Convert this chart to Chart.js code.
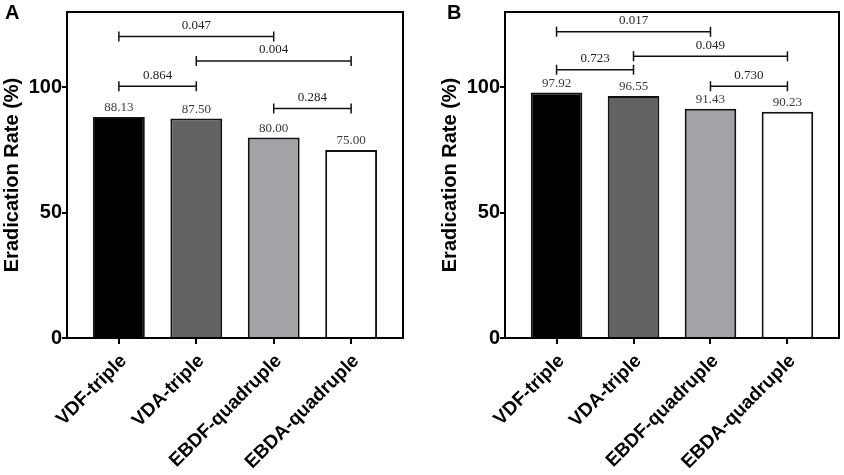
<!DOCTYPE html>
<html>
<head>
<meta charset="utf-8">
<script src="https://cdn.jsdelivr.net/npm/chart.js@4.4.0/dist/chart.umd.min.js"></script>
<style>
  body { margin: 0; background: #fff; }
  #wrap { position: relative; width: 844px; height: 475px; overflow: hidden; }
  #chartA { position: absolute; left: 0; top: 0; }
  #chartB { position: absolute; left: 438px; top: 0; }
</style>
</head>
<body>
<div id="wrap">
  <canvas id="chartA" width="422" height="475"></canvas>
  <canvas id="chartB" width="406" height="475"></canvas>
</div>
<script>
// groups on the x axis
var categories = ['VDF-triple', 'VDA-triple', 'EBDF-quadruple', 'EBDA-quadruple'];
var yTicks = [0, 50, 100];

// eradication rate (%)
var ratesA = [88.13, 87.50, 80.00, 75.00];
var ratesB = [97.92, 96.55, 91.43, 90.23];

// p value brackets: pair of groups, p value, height on the y scale
var pairsA = [[0, 2], [1, 3], [0, 1], [2, 3]];
var pValuesA = ['0.047', '0.004', '0.864', '0.284'];
var levelsA = [120.2, 110.5, 100.4, 91.5];

var pairsB = [[0, 2], [1, 3], [0, 1], [2, 3]];
var pValuesB = ['0.017', '0.049', '0.723', '0.730'];
var levelsB = [122.1, 112.4, 107.0, 100.4];

var barColors = ['#000000', '#636363', '#a4a3a8', '#ffffff'];
var sansBold = 'bold 20px "Liberation Sans", Arial, sans-serif';

// frame, p value brackets, bar values, panel letter
var decorPlugin = {
    id: 'decor',
    afterDatasetsDraw: function(chart, args, opts) {
        var c = chart.ctx;
        var area = chart.chartArea;
        var xs = chart.scales.x;
        var ys = chart.scales.y;
        c.save();

        // values above bars
        c.fillStyle = '#3a3a3a';
        c.font = '13px "Liberation Serif", "Times New Roman", serif';
        c.textAlign = 'center';
        c.textBaseline = 'middle';
        opts.values.forEach(function(v, i){
            c.fillText(v.toFixed(2), xs.getPixelForValue(i), ys.getPixelForValue(v) - 9);
        });

        // brackets
        c.strokeStyle = '#111';
        c.lineWidth = 1.5;
        c.fillStyle = '#222';
        opts.pairs.forEach(function(p, k){
            var x1 = xs.getPixelForValue(p[0]);
            var x2 = xs.getPixelForValue(p[1]);
            var y = ys.getPixelForValue(opts.levels[k]);
            c.beginPath();
            c.moveTo(x1, y); c.lineTo(x2, y);
            c.moveTo(x1, y - 5); c.lineTo(x1, y + 5);
            c.moveTo(x2, y - 5); c.lineTo(x2, y + 5);
            c.stroke();
            c.fillText(opts.pvals[k], (x1 + x2) / 2, y - 11);
        });

        // frame
        c.strokeStyle = '#000';
        c.lineWidth = 2;
        c.strokeRect(area.left, area.top, area.right - area.left, area.bottom - area.top);

        // panel letter
        c.fillStyle = '#000';
        c.font = sansBold;
        c.textAlign = 'left';
        c.fillText(opts.letter, opts.letterX, 13);
        c.restore();
    }
};

function makePanel(id, values, pairs, pvals, levels, letter, letterX, padRight) {
    var ctx = document.getElementById(id).getContext('2d');
    return new Chart(ctx, {
        type: 'bar',
        data: {
            datasets: [{
                data: values.map(function(v, i){ return {x: i, y: v}; }),
                backgroundColor: barColors,
                borderColor: '#111',
                borderWidth: 2,
                categoryPercentage: 1,
                barPercentage: 0.67
            }]
        },
        options: {
            responsive: false,
            animation: false,
            layout: { padding: { top: 3, right: padRight, left: 0, bottom: 0 } },
            plugins: {
                legend: { display: false },
                tooltip: { enabled: false },
                decor: { values: values, pairs: pairs, pvals: pvals, levels: levels, letter: letter, letterX: letterX }
            },
            scales: {
                x: {
                    type: 'linear',
                    min: -0.67,
                    max: 3.67,
                    offset: false,
                    afterBuildTicks: function(s){ s.ticks = categories.map(function(c, i){ return {value: i}; }); },
                    afterFit: function(s){ s.height = 137; },
                    border: { display: true, color: '#000', width: 2 },
                    grid: { offset: false, drawOnChartArea: false, drawTicks: true, tickLength: 6, color: '#000', lineWidth: 2 },
                    ticks: {
                        autoSkip: false,
                        maxRotation: 45,
                        minRotation: 45,
                        padding: 6,
                        labelOffset: 5,
                        color: '#000',
                        font: { family: '"Liberation Sans", Arial, sans-serif', size: 19, weight: 'bold' },
                        callback: function(v){ return categories[v]; }
                    }
                },
                y: {
                    min: 0,
                    max: 130,
                    afterBuildTicks: function(s){ s.ticks = yTicks.map(function(v){ return {value: v}; }); },
                    afterFit: function(s){ s.width = 67; },
                    border: { display: true, color: '#000', width: 2 },
                    grid: { drawOnChartArea: false, drawTicks: true, tickLength: 5, color: '#000', lineWidth: 2 },
                    ticks: {
                        padding: 0,
                        color: '#000',
                        font: { family: '"Liberation Sans", Arial, sans-serif', size: 20, weight: 'bold' }
                    },
                    title: {
                        display: true,
                        text: 'Eradication Rate (%)',
                        color: '#000',
                        padding: { top: 0, bottom: 0 },
                        font: { family: '"Liberation Sans", Arial, sans-serif', size: 20, weight: 'bold' }
                    }
                }
            }
        },
        plugins: [decorPlugin]
    });
}

makePanel('chartA', ratesA, pairsA, pValuesA, levelsA, 'A', 5, 19);
makePanel('chartB', ratesB, pairsB, pValuesB, levelsB, 'B', 9, 5);
</script>
</body>
</html>
